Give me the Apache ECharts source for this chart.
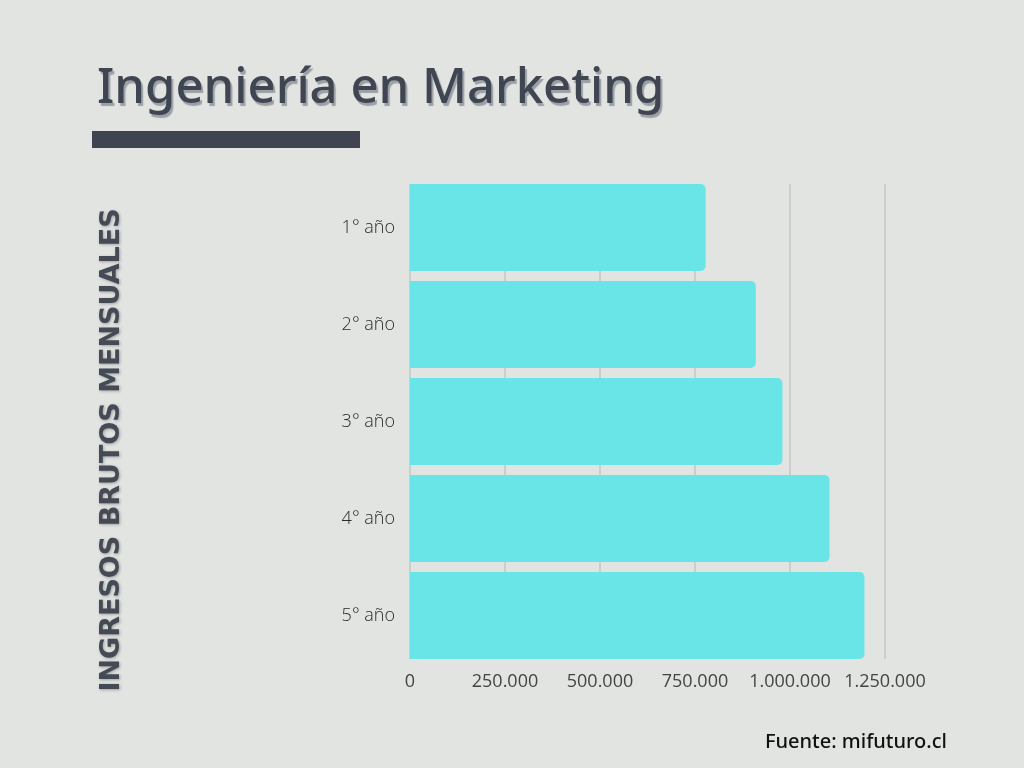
<!DOCTYPE html>
<html>
<head>
<meta charset="utf-8">
<script src="https://cdn.jsdelivr.net/npm/echarts@6/dist/echarts.min.js"></script>
<style>
  html, body { margin: 0; padding: 0; background: #e2e4e1; }
  #chart { width: 1024px; height: 768px; }
</style>
</head>
<body>
<div id="chart"></div>
<script>
var categories = ['1° año', '2° año', '3° año', '4° año', '5° año'];
var ingresos = [778000, 910000, 980000, 1104000, 1196000];
var xTicks = [0, 250000, 500000, 750000, 1000000, 1250000];

var formatMiles = function (v) {
	return String(v).replace(/\B(?=(\d{3})+(?!\d))/g, '.');
};

var myChart = echarts.init(document.getElementById('chart'));
var option = {
	backgroundColor: '#e2e4e1',
	title: {
		text: 'Ingeniería en Marketing',
		left: 92,
		top: 60,
		textStyle: {
			fontFamily: 'Noto Sans',
			fontWeight: 500,
			fontSize: 49,
			color: '#3f4651',
			textShadowColor: '#9ba0a6',
			textShadowOffsetX: 2,
			textShadowOffsetY: 3,
			textShadowBlur: 1
		}
	},
	graphic: [
		{
			type: 'rect',
			left: 92,
			top: 131,
			shape: { width: 268, height: 17 },
			style: { fill: '#3e4551' }
		},
		{
			type: 'text',
			x: 112,
			y: 450,
			rotation: Math.PI / 2,
			style: {
				text: 'INGRESOS BRUTOS MENSUALES',
				font: 'bold 27px "DejaVu Sans"',
				fill: '#454b55',
				align: 'center',
				verticalAlign: 'middle',
				textShadowColor: 'rgba(90,95,100,0.5)',
				textShadowBlur: 3,
				textShadowOffsetX: 1,
				textShadowOffsetY: 1
			}
		},
		{
			type: 'text',
			right: 77,
			top: 732,
			style: {
				text: 'Fuente: mifuturo.cl',
				font: '500 20px "Noto Sans"',
				fill: '#111'
			}
		}
	],
	grid: [
		// bars
		{ left: 410, width: 475, top: 179, height: 485 },
		// gridlines and tick labels
		{ left: 410, width: 475, top: 184, height: 475 }
	],
	xAxis: [
		{
			type: 'value',
			gridIndex: 0,
			min: 0,
			max: 1250000,
			show: false,
			splitLine: { show: false }
		},
		{
			type: 'value',
			gridIndex: 1,
			min: 0,
			max: 1250000,
			interval: 250000,
			axisLine: { show: false },
			axisTick: { show: false },
			splitLine: { show: true, lineStyle: { color: '#c5c7c4', width: 1.5 } },
			axisLabel: {
				margin: 14,
				fontFamily: 'Open Sans',
				fontSize: 18,
				color: '#444',
				formatter: function (v) {
					return xTicks.indexOf(v) >= 0 ? formatMiles(v) : '';
				}
			}
		}
	],
	yAxis: [
		{
			type: 'category',
			gridIndex: 0,
			inverse: true,
			data: categories,
			axisLine: { show: false },
			axisTick: { show: false },
			axisLabel: {
				margin: 15,
				padding: [5, 0, 0, 0],
				fontFamily: 'Open Sans',
				fontWeight: 300,
				fontSize: 18,
				color: '#2a2a2a'
			}
		},
		{
			type: 'value',
			gridIndex: 1,
			show: false,
			splitLine: { show: false }
		}
	],
	series: [
		{
			type: 'bar',
			xAxisIndex: 0,
			yAxisIndex: 0,
			data: ingresos,
			barCategoryGap: '10.3%',
			itemStyle: {
				color: '#69e5e8',
				borderRadius: [0, 5, 5, 0]
			}
		}
	]
};
myChart.setOption(option);
</script>
</body>
</html>
